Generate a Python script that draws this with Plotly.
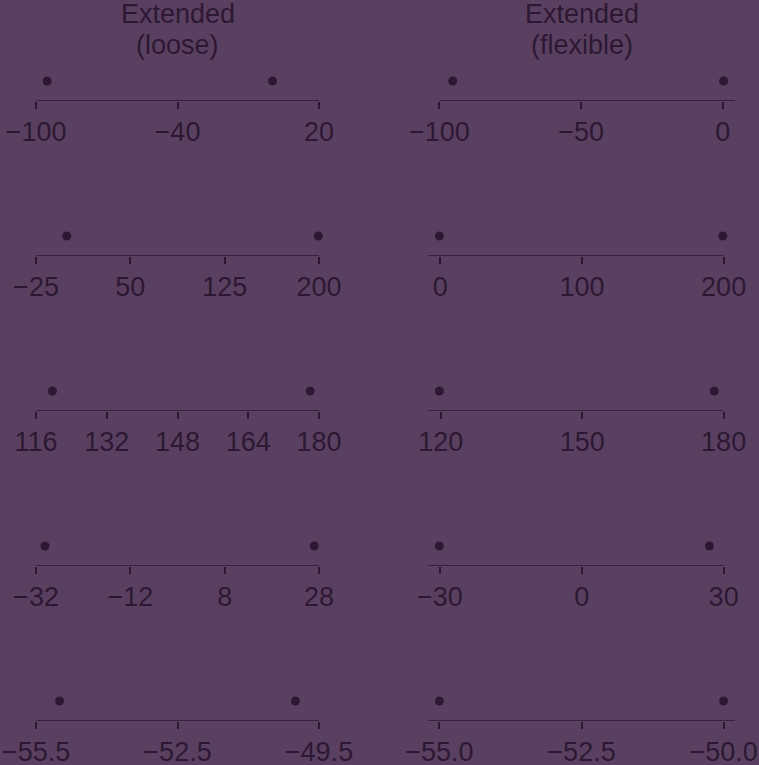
import plotly.graph_objects as go

# ---- data ----
columns = ["loose", "flexible"]
# data ranges per row (two points each)
row_points = [
    [-95.3, 0.3],
    [-0.6, 199.4],
    [119.7, 178.0],
    [-30.1, 27.0],
    [-55.0, -50.0],
]
loose_ticks = [
    [-100, -40, 20],
    [-25, 50, 125, 200],
    [116, 132, 148, 164, 180],
    [-32, -12, 8, 28],
    [-55.5, -52.5, -49.5],
]
loose_labels = [
    ["−100", "−40", "20"],
    ["−25", "50", "125", "200"],
    ["116", "132", "148", "164", "180"],
    ["−32", "−12", "8", "28"],
    ["−55.5", "−52.5", "−49.5"],
]
flex_ticks = [
    [-100, -50, 0],
    [0, 100, 200],
    [120, 150, 180],
    [-30, 0, 30],
    [-55.0, -52.5, -50.0],
]
flex_labels = [
    ["−100", "−50", "0"],
    ["0", "100", "200"],
    ["120", "150", "180"],
    ["−30", "0", "30"],
    ["−55.0", "−52.5", "−50.0"],
]
# whether the flexible axis line runs to the plot-region edge
flex_line_to_left_edge = [False, True, True, True, True]
flex_line_to_right_edge = [True, False, False, False, True]

BG = "#5a4060"
FG = "#2d1834"
FONT = "Liberation Sans, Arial, sans-serif"
W, H = 759, 765

col_px = [(24.7, 330.3), (428.0, 735.0)]
row_line_px = [101, 256, 411, 566, 721]
row_pt_px = [81, 236, 391, 546, 701]

fig = go.Figure()
layout = dict(
    template="none",
    width=W, height=H, autosize=False,
    margin=dict(l=0, r=0, t=0, b=0, autoexpand=False),
    paper_bgcolor=BG, plot_bgcolor=BG,
    showlegend=False,
    font=dict(family=FONT, color=FG, size=27),
)

idx = 0
for r in range(5):
    for c in range(2):
        idx += 1
        xa = "x" if idx == 1 else f"x{idx}"
        ya = "y" if idx == 1 else f"y{idx}"
        xkey = "xaxis" if idx == 1 else f"xaxis{idx}"
        ykey = "yaxis" if idx == 1 else f"yaxis{idx}"
        pts = row_points[r]
        ticks = loose_ticks[r] if c == 0 else flex_ticks[r]
        labels = loose_labels[r] if c == 0 else flex_labels[r]
        lo = min(min(pts), min(ticks))
        hi = max(max(pts), max(ticks))
        pad = 0.04 * (hi - lo)
        ulo, uhi = lo - pad, hi + pad
        # axis line extent
        if c == 0:
            a0, a1 = min(ticks), max(ticks)
        else:
            a0 = ulo if flex_line_to_left_edge[r] else min(ticks)
            a1 = uhi if flex_line_to_right_edge[r] else max(ticks)
        fig.add_trace(go.Scatter(
            x=pts, y=[1, 1], mode="markers",
            marker=dict(size=9, color=FG, line=dict(width=0)),
            xaxis=xa, yaxis=ya, cliponaxis=False, hoverinfo="skip"))
        fig.add_trace(go.Scatter(
            x=[a0, a1], y=[0, 0], mode="lines",
            line=dict(color=FG, width=1.5),
            xaxis=xa, yaxis=ya, cliponaxis=False, hoverinfo="skip"))
        x0p, x1p = col_px[c]
        layout[xkey] = dict(
            domain=[x0p / W, x1p / W], range=[ulo, uhi], anchor=ya,
            automargin=False,
            showgrid=False, zeroline=False, showline=False,
            tickmode="array", tickvals=ticks, ticktext=labels,
            ticks="outside", ticklen=7, tickwidth=1.5, tickcolor=FG,
            tickfont=dict(size=27, color=FG, family=FONT),
            fixedrange=True,
        )
        layout[ykey] = dict(
            domain=[1 - row_line_px[r] / H, 1 - row_pt_px[r] / H],
            range=[0, 1], anchor=xa, visible=False, fixedrange=True,
            automargin=False,
        )

annotations = []
for c, name in enumerate(columns):
    cx = (col_px[c][0] + col_px[c][1]) / 2 / W
    annotations.append(dict(text="Extended", x=cx, y=1 - 14 / H, xref="paper", yref="paper",
                            showarrow=False, xanchor="center", yanchor="middle",
                            font=dict(size=27, color=FG, family=FONT)))
    annotations.append(dict(text=f"({name})", x=cx, y=1 - 45 / H, xref="paper", yref="paper",
                            showarrow=False, xanchor="center", yanchor="middle",
                            font=dict(size=27, color=FG, family=FONT)))
layout["annotations"] = annotations
fig.update_layout(**layout)
fig.write_html("out.html")
